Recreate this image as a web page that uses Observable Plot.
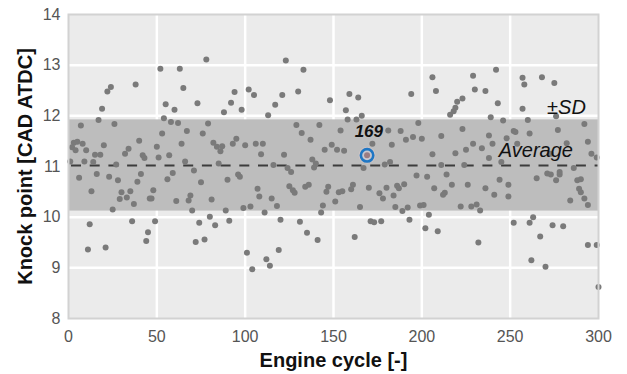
<!DOCTYPE html>
<html>
<head>
<meta charset="utf-8">
<script src="https://cdn.jsdelivr.net/npm/d3@7"></script>
<script src="https://cdn.jsdelivr.net/npm/@observablehq/plot@0.6"></script>
<style>
  html, body { margin: 0; padding: 0; background: #ffffff; }
  #chart { width: 627px; height: 374px; overflow: hidden; }
</style>
</head>
<body>
<div id="chart"></div>
<script>
// ---- Data ----
const xTicks = [0, 50, 100, 150, 200, 250, 300];
const yTicks = [8, 9, 10, 11, 12, 13, 14];

const cycles = [
  52,24,22,38,19,17,7,26,53,3,5,2,4,8,10,20,15,18,40,34,32,42,43,50,51,1,9,14,27,6,16,23,28,41,39,13,30,33,35,29,37,48,46,47,25,12,36,49,45,44,11,21,
  78,63,65,55,60,73,94,92,88,98,54,58,62,67,79,76,64,82,84,86,87,93,95,100,57,66,71,85,59,56,75,90,96,97,61,69,68,81,70,89,99,103,74,80,83,91,72,77,101,
  123,133,102,105,121,130,117,148,113,129,132,142,137,154,106,110,109,122,145,149,152,116,124,126,138,140,139,107,108,125,127,128,134,136,147,146,153,115,118,111,144,143,151,120,131,135,141,119,112,114,104,
  159,164,194,157,158,163,166,198,172,181,188,191,195,200,183,156,179,182,167,197,203,161,160,155,170,176,180,184,186,187,190,178,165,185,189,192,199,201,204,171,173,177,193,202,162,
  206,208,229,230,236,242,223,220,219,218,216,243,239,246,223,211,238,229,225,234,240,248,252,253,206,219,238,245,211,224,214,217,226,244,249,207,213,212,236,241,249,222,228,231,233,209,252,232,
  257,258,268,275,257,276,260,292,277,261,294,282,254,296,299,273,265,271,273,278,276,278,286,288,290,289,290,292,294,284,263,261,274,280,267,262,270,294,299,300
];
const knockPoints = [
  12.93,12.57,12.48,12.62,12.14,11.92,11.81,11.84,11.65,11.47,11.49,11.38,11.32,11.45,11.32,11.42,11.23,11.23,11.51,11.35,11.25,11.22,11.17,11.39,11.18,11.10,11.10,11.09,11.04,10.78,10.85,10.80,10.73,10.85,10.70,10.51,10.49,10.39,10.51,10.36,10.26,10.53,10.37,10.37,10.15,9.86,9.92,9.92,9.70,9.53,9.36,9.40,
  13.11,12.93,12.55,12.23,12.12,12.25,12.47,12.26,12.07,12.12,11.95,11.88,11.86,11.70,11.85,11.65,11.45,11.47,11.39,11.30,11.40,11.45,11.55,11.42,11.22,11.10,10.92,11.06,10.87,10.75,10.69,10.74,10.84,10.80,10.32,10.43,10.33,10.35,10.13,10.13,10.18,10.21,9.89,10.01,9.84,9.93,9.51,9.56,9.30,
  13.09,12.91,12.52,12.41,12.41,12.48,12.22,12.31,12.01,11.82,11.66,11.82,11.53,11.71,11.45,11.45,11.24,11.23,11.33,11.43,11.33,11.03,10.97,10.89,11.14,11.06,10.98,10.56,10.41,10.61,10.53,10.48,10.60,10.64,10.60,10.50,10.49,10.37,10.22,10.09,10.23,10.09,10.31,9.95,9.91,9.69,9.55,9.35,9.17,9.04,8.97,
  12.43,12.36,12.43,12.11,11.93,11.93,12.00,11.86,11.45,11.71,11.70,11.53,11.58,11.55,11.43,11.31,11.04,11.09,10.97,10.82,10.80,10.64,10.55,10.51,10.58,10.47,10.58,10.43,10.62,10.57,10.65,10.37,10.20,10.20,10.12,10.19,10.23,10.24,10.05,9.92,9.90,9.92,9.95,9.78,9.61,
  12.76,12.49,12.79,12.52,12.49,12.91,12.34,12.28,12.16,12.09,12.02,12.25,11.97,11.91,11.74,11.60,11.61,11.45,11.33,11.36,11.45,11.56,11.70,11.68,11.24,11.26,11.17,11.09,11.03,11.03,10.84,10.64,10.64,10.74,10.64,10.57,10.48,10.44,10.57,10.44,10.41,10.21,10.21,10.25,10.13,9.72,9.89,9.50,
  12.75,12.62,12.76,12.65,12.14,11.99,11.92,11.84,11.72,11.65,11.49,11.46,11.45,11.25,11.18,11.25,10.77,10.86,10.84,10.84,10.73,10.89,10.97,10.73,10.75,10.56,10.49,10.37,10.24,10.33,10.00,9.89,9.84,9.82,9.62,9.15,9.02,9.45,9.45,8.62
];

const highlightCycle = [169];
const highlightValue = [11.22];
const averageValue = [11.02];
const sdLow = [10.12];
const sdHigh = [11.92];

const labels = ["169", "Average", "\u00B1SD"];
const xTitle = "Engine cycle [-]";
const yTitle = "Knock point [CAD ATDC]";

// ---- Build the table the library needs ----
const points = cycles.map((c, i) => ({cycle: c, knock: knockPoints[i]}));
const highlight = highlightCycle.map((c, i) => ({cycle: c, knock: highlightValue[i]}));

const font = "'Liberation Sans', Arial, Helvetica, sans-serif";

const chart = Plot.plot({
  width: 627,
  height: 374,
  marginLeft: 68,
  marginRight: 29,
  marginTop: 14,
  marginBottom: 56,
  style: {fontFamily: font, background: "#ffffff", overflow: "visible"},
  x: {domain: [xTicks[0], xTicks[xTicks.length - 1]], ticks: xTicks},
  y: {domain: [yTicks[0], yTicks[yTicks.length - 1]], ticks: yTicks},
  marks: [
    Plot.frame({fill: "#ebebeb"}),
    Plot.gridX(xTicks.slice(1, -1), {stroke: "#ffffff", strokeOpacity: 1, strokeWidth: 2.5}),
    Plot.gridY(yTicks.slice(1, -1), {stroke: "#ffffff", strokeOpacity: 1, strokeWidth: 2.5}),
    Plot.rect(sdLow, {
      x1: () => xTicks[0], x2: () => xTicks[xTicks.length - 1],
      y1: d => d, y2: (d, i) => sdHigh[i],
      fill: "#bdbdbd"
    }),
    Plot.ruleY(averageValue, {
      x1: xTicks[0], x2: xTicks[xTicks.length - 1],
      stroke: "#3c3c3c", strokeWidth: 2, strokeDasharray: "10,8.7", strokeDashoffset: -3
    }),
    Plot.dot(points, {x: "cycle", y: "knock", r: 3, fill: "#7a7a7a", stroke: "none"}),
    Plot.dot(highlight, {x: "cycle", y: "knock", r: 8.5, fill: "#d9c9cc", fillOpacity: 0.5, stroke: "none"}),
    Plot.dot(highlight, {x: "cycle", y: "knock", r: 6.2, fill: "#c7c7cf", stroke: "#1f77c4", strokeWidth: 2.6}),
    Plot.dot(highlight, {x: "cycle", y: "knock", r: 3, fill: "#9a7c82", stroke: "none"}),
    Plot.frame({stroke: "#d2d2d2", strokeWidth: 2}),
    Plot.axisX(xTicks, {tickSize: 0, tickPadding: 12, fontSize: 16, color: "#555555", label: null, tickFormat: d => String(d)}),
    Plot.axisY(yTicks, {tickSize: 0, tickPadding: 8, fontSize: 16, color: "#555555", label: null, tickFormat: d => String(d)}),
    // annotations
    Plot.text([labels[0]], {x: [170], y: [11.58], lineAnchor: "bottom", textAnchor: "middle",
      fontSize: 17, fontWeight: "bold", fontStyle: "italic", fill: "#111111"}),
    Plot.text([labels[1]], {x: [243.6], y: [11.184], lineAnchor: "bottom", textAnchor: "start",
      fontSize: 20, fontStyle: "italic", fill: "#111111"}),
    Plot.text([labels[2]], {x: [270.9], y: [12.03], lineAnchor: "bottom", textAnchor: "start",
      fontSize: 20, fontStyle: "italic", fill: "#111111"}),
    // axis titles
    Plot.text([xTitle], {frameAnchor: "bottom", dy: 48, lineAnchor: "bottom", textAnchor: "middle",
      fontSize: 20, fontWeight: "bold", fill: "#111111"}),
    Plot.text([yTitle], {frameAnchor: "left", dx: -43, rotate: -90, lineAnchor: "middle", textAnchor: "middle",
      fontSize: 20, fontWeight: "bold", fill: "#111111"})
  ]
});

document.getElementById("chart").appendChild(chart);
</script>
</body>
</html>
